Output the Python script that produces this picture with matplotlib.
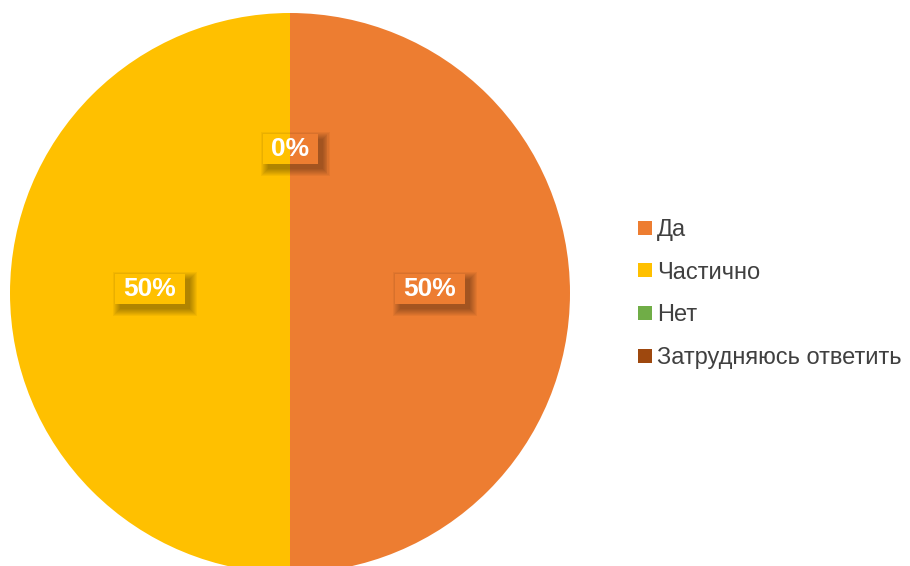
import matplotlib
matplotlib.use("Agg")
import matplotlib.pyplot as plt
from matplotlib.patches import Rectangle, Wedge
from matplotlib.lines import Line2D
import numpy as np

# данные
categories = ["Да", "Частично", "Нет", "Затрудняюсь ответить"]
values = [50, 50, 0, 0]
colors = ["#ED7D31", "#FFC000", "#70AD47", "#9E480E"]

plt.rcParams['font.family'] = ['Liberation Sans', 'DejaVu Sans']

W, H = 910, 566
R = 280.0          # радиус круга в пикселях
cx, cy = 290, 293  # центр круга (пиксели, сверху)

fig = plt.figure(figsize=(W / 100, H / 100), dpi=100)
ax = fig.add_axes([0, 0, 1, 1])

wedges, _ = ax.pie(values, colors=colors, startangle=90, counterclock=False,
                   radius=1, center=(0, 0), wedgeprops=dict(linewidth=0))

# pie() меняет пределы, поэтому задаём их после
ax.set_aspect('auto')
ax.set_xlim(-cx / R, (W - cx) / R)
ax.set_ylim(-(H - cy) / R, cy / R)
ax.axis('off')

# подписи с тенью
total = sum(values)
shown = []
box_h = 30 / R
for w, v in zip(wedges, values):
    ang = np.deg2rad((w.theta1 + w.theta2) / 2)
    x, y = 0.5 * np.cos(ang), 0.5 * np.sin(ang) + 4 / R
    if any(abs(x - a) < 1e-6 and abs(y - b) < 1e-6 for a, b in shown):
        continue
    shown.append((x, y))
    txt = f"{v / total * 100:.0f}%"
    box_w = (70 if len(txt) > 2 else 55) / R
    # размытая тень
    off = 5 / R
    for k in range(8):
        g = k * 1.0 / R
        ax.add_patch(Rectangle((x - box_w / 2 + off - g, y - box_h / 2 - off - g),
                               box_w + 2 * g, box_h + 2 * g,
                               facecolor='black', alpha=0.045, linewidth=0, zorder=3))
    # фон подписи = цвет секторов под ней
    clip = Rectangle((x - box_w / 2, y - box_h / 2), box_w, box_h,
                     facecolor='none', linewidth=0, transform=ax.transData)
    for w2 in wedges:
        p = Wedge((0, 0), 1, w2.theta1, w2.theta2, facecolor=w2.get_facecolor(),
                  linewidth=0, zorder=4)
        ax.add_patch(p)
        p.set_clip_path(clip)
    ax.text(x, y, txt, ha='center', va='center', color='white',
            fontsize=19, fontweight='bold', zorder=5)

handles = [Line2D([], [], marker='s', linestyle='none', markersize=9.5,
                  markerfacecolor=c, markeredgewidth=0) for c in colors]
ax.legend(handles, categories, loc='center left',
          bbox_to_anchor=(625 / W, (H - 294) / H), bbox_transform=fig.transFigure,
          frameon=False, fontsize=17, labelcolor='#404040',
          handlelength=0.7, handletextpad=0.15, labelspacing=0.87, borderpad=0)

fig.savefig("out.png", dpi=100, facecolor='white')
